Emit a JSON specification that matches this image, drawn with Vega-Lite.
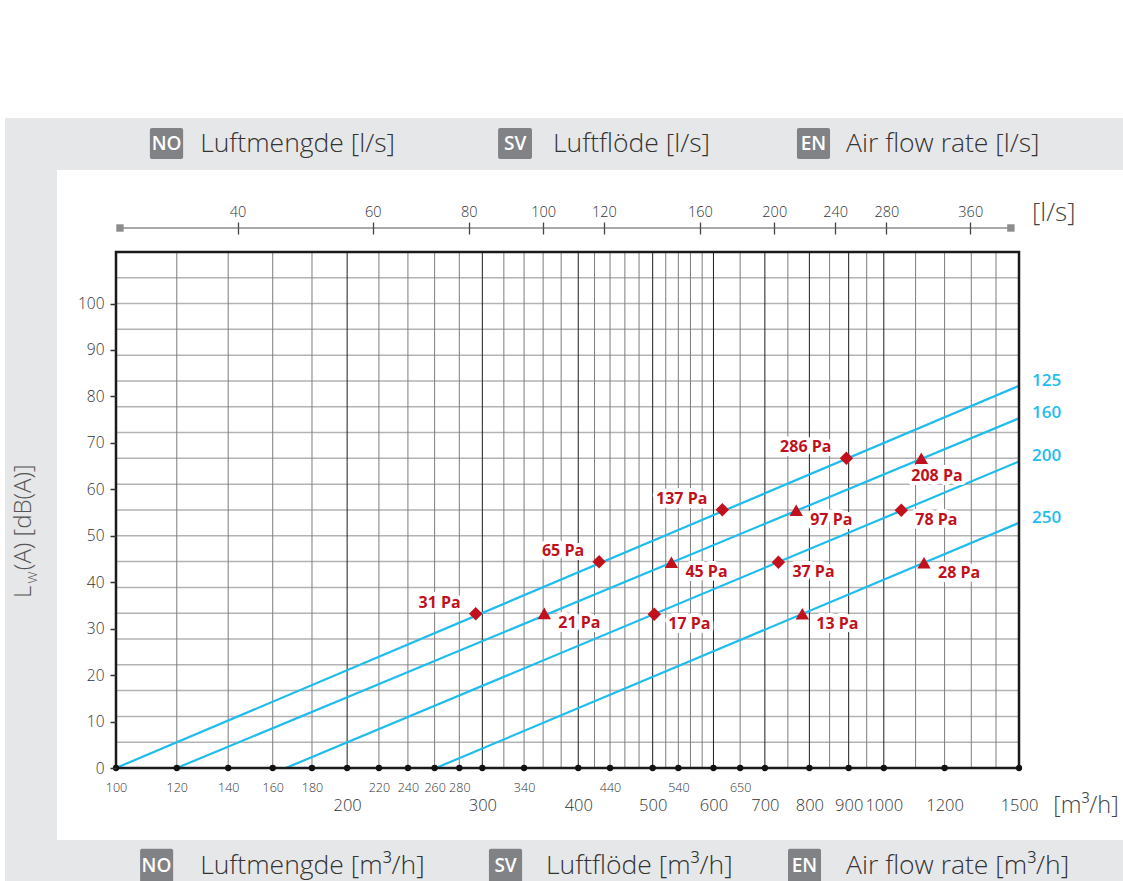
{
  "$schema": "https://vega.github.io/schema/vega-lite/v6.json",
  "width": 903,
  "height": 516,
  "autosize": {"type": "none"},
  "padding": {"left": 116, "top": 252, "right": 104, "bottom": 113},
  "background": "white",
  "config": {
    "view": {"stroke": null},
    "axis": {"labelFont": "Open Sans", "labelFontWeight": 300, "labelColor": "#333333", "grid": false, "title": null}
  },
  "datasets": {
    "vgrid": [
      {"q": 120, "kind": "minor"}, {"q": 140, "kind": "minor"}, {"q": 160, "kind": "minor"}, {"q": 180, "kind": "minor"},
      {"q": 200, "kind": "major"},
      {"q": 220, "kind": "minor"}, {"q": 240, "kind": "minor"}, {"q": 260, "kind": "minor"}, {"q": 280, "kind": "minor"},
      {"q": 300, "kind": "major"},
      {"q": 320, "kind": "minor"}, {"q": 340, "kind": "minor"}, {"q": 360, "kind": "minor"}, {"q": 380, "kind": "minor"},
      {"q": 400, "kind": "major"},
      {"q": 420, "kind": "minor"}, {"q": 440, "kind": "minor"}, {"q": 460, "kind": "minor"}, {"q": 480, "kind": "minor"},
      {"q": 500, "kind": "major"},
      {"q": 520, "kind": "minor"}, {"q": 540, "kind": "minor"}, {"q": 560, "kind": "minor"}, {"q": 580, "kind": "minor"},
      {"q": 600, "kind": "major"}, {"q": 650, "kind": "minor"},
      {"q": 700, "kind": "major"}, {"q": 750, "kind": "minor"},
      {"q": 800, "kind": "major"}, {"q": 850, "kind": "minor"},
      {"q": 900, "kind": "major"}, {"q": 950, "kind": "minor"},
      {"q": 1000, "kind": "major"},
      {"q": 1100, "kind": "minor"}, {"q": 1200, "kind": "minor"}, {"q": 1300, "kind": "minor"}, {"q": 1400, "kind": "minor"}
    ],
    "hgrid": [
      {"db": 5.556}, {"db": 11.111}, {"db": 16.667}, {"db": 22.222}, {"db": 27.778}, {"db": 33.333}, {"db": 38.889},
      {"db": 44.444}, {"db": 50}, {"db": 55.556}, {"db": 61.111}, {"db": 66.667}, {"db": 72.222}, {"db": 77.778},
      {"db": 83.333}, {"db": 88.889}, {"db": 94.444}, {"db": 100}, {"db": 105.556}
    ],
    "lines": [
      {"size": 125, "q": 100, "db": 0}, {"size": 125, "q": 1500, "db": 82.3},
      {"size": 160, "q": 120, "db": 0}, {"size": 160, "q": 1500, "db": 75.3},
      {"size": 200, "q": 166.4, "db": 0}, {"size": 200, "q": 1500, "db": 66.0},
      {"size": 250, "q": 261, "db": 0}, {"size": 250, "q": 1500, "db": 52.8}
    ],
    "points": [
      {"size": 125, "pa": "31 Pa", "q": 294.1, "db": 33.2},
      {"size": 125, "pa": "65 Pa", "q": 425.8, "db": 44.4},
      {"size": 125, "pa": "137 Pa", "q": 616.2, "db": 55.6},
      {"size": 125, "pa": "286 Pa", "q": 893.9, "db": 66.7},
      {"size": 160, "pa": "21 Pa", "q": 361.3, "db": 33.3},
      {"size": 160, "pa": "45 Pa", "q": 528.9, "db": 44.3},
      {"size": 160, "pa": "97 Pa", "q": 769.0, "db": 55.5},
      {"size": 160, "pa": "208 Pa", "q": 1119.0, "db": 66.7},
      {"size": 200, "pa": "17 Pa", "q": 502.4, "db": 33.1},
      {"size": 200, "pa": "37 Pa", "q": 729.0, "db": 44.3},
      {"size": 200, "pa": "78 Pa", "q": 1053.9, "db": 55.5},
      {"size": 250, "pa": "13 Pa", "q": 783.2, "db": 33.2},
      {"size": 250, "pa": "28 Pa", "q": 1128.1, "db": 44.2}
    ],
    "dots": [
      {"q": 100}, {"q": 120}, {"q": 140}, {"q": 160}, {"q": 180}, {"q": 200}, {"q": 220}, {"q": 240},
      {"q": 260}, {"q": 280}, {"q": 300}, {"q": 340}, {"q": 400}, {"q": 440}, {"q": 500}, {"q": 540},
      {"q": 600}, {"q": 650}, {"q": 700}, {"q": 800}, {"q": 900}, {"q": 1000}, {"q": 1200}, {"q": 1500}
    ]
  },
  "resolve": {"axis": {"x": "independent", "y": "independent"}},
  "layer": [
    {
      "data": {"values": [{}]},
      "mark": {"type": "rect", "fill": "#e6e7e8"},
      "encoding": {
        "x": {"datum": 71.7, "type": "quantitative", "scale": {"type": "log", "domain": [100, 1500]}, "axis": null},
        "x2": {"datum": 2200},
        "y": {"datum": 139.95, "type": "quantitative", "scale": {"domain": [0, 111.1], "nice": false, "zero": false}, "axis": null},
        "y2": {"datum": -40}
      }
    },
    {
      "data": {"values": [{}]},
      "mark": {"type": "rect", "fill": "white"},
      "encoding": {
        "x": {"datum": 83.8, "type": "quantitative", "scale": {"type": "log", "domain": [100, 1500]}, "axis": null},
        "x2": {"datum": 2200},
        "y": {"datum": 128.76, "type": "quantitative", "scale": {"domain": [0, 111.1], "nice": false, "zero": false}, "axis": null},
        "y2": {"datum": -15.5}
      }
    },
    {
      "data": {"name": "hgrid"},
      "mark": {"type": "rule", "color": "#b3b3b3", "strokeWidth": 1.5},
      "encoding": {
        "y": {
          "field": "db", "type": "quantitative",
          "scale": {"domain": [0, 111.1], "nice": false, "zero": false},
          "axis": {
            "orient": "left", "values": [0, 10, 20, 30, 40, 50, 60, 70, 80, 90, 100], "zindex": 2,
            "domain": false, "ticks": true, "tickSize": 6, "tickColor": "#333333", "tickWidth": 1.5,
            "labelPadding": 6, "labelFontSize": 15.5
          }
        }
      }
    },
    {
      "data": {"name": "vgrid"},
      "mark": {"type": "rule", "strokeWidth": 1},
      "encoding": {
        "x": {
          "field": "q", "type": "quantitative",
          "scale": {"type": "log", "domain": [100, 1500]},
          "axis": {
            "orient": "bottom", "values": [200, 300, 400, 500, 600, 700, 800, 900, 1000, 1200, 1500], "zindex": 2,
            "format": "d", "domain": false, "ticks": false, "tickSize": 0, "labelPadding": 29, "labelFontSize": 16.5,
            "labelFlush": false, "labelOverlap": false
          }
        },
        "color": {
          "field": "kind", "type": "nominal",
          "scale": {"domain": ["major", "minor"], "range": ["#1e1e1e", "#7d7d7d"]},
          "legend": null
        }
      }
    },
    {
      "data": {"name": "lines"},
      "mark": {"type": "line", "color": "#1fbcee", "strokeWidth": 2.2},
      "encoding": {
        "x": {"field": "q", "type": "quantitative", "scale": {"type": "log", "domain": [100, 1500]}, "axis": null},
        "y": {"field": "db", "type": "quantitative", "scale": {"domain": [0, 111.1], "nice": false, "zero": false}, "axis": null},
        "detail": {"field": "size", "type": "nominal"}
      }
    },
    {
      "data": {"values": [{}]},
      "mark": {"type": "rect", "fillOpacity": 0, "stroke": "#1a1a1a", "strokeWidth": 2.5},
      "encoding": {
        "x": {"datum": 100, "type": "quantitative", "scale": {"type": "log", "domain": [100, 1500]}, "axis": null},
        "x2": {"datum": 1500},
        "y": {"datum": 0, "type": "quantitative", "scale": {"domain": [0, 111.1], "nice": false, "zero": false}, "axis": null},
        "y2": {"datum": 111.1}
      }
    },
    {
      "data": {"name": "dots"},
      "mark": {"type": "circle", "color": "#111111", "size": 40, "opacity": 1},
      "encoding": {
        "x": {
          "field": "q", "type": "quantitative",
          "scale": {"type": "log", "domain": [100, 1500]},
          "axis": {
            "orient": "bottom", "values": [100, 120, 140, 160, 180, 220, 240, 260, 280, 340, 440, 540, 650], "zindex": 2,
            "format": "d", "domain": false, "ticks": false, "tickSize": 0, "labelPadding": 13, "labelFontSize": 12.5,
            "labelFlush": false, "labelOverlap": false
          }
        },
        "y": {"datum": 0, "type": "quantitative", "scale": {"domain": [0, 111.1], "nice": false, "zero": false}, "axis": null}
      }
    },
    {
      "data": {"name": "points"},
      "mark": {"type": "point", "filled": true, "color": "#c0111d", "size": 180, "opacity": 1},
      "encoding": {
        "x": {"field": "q", "type": "quantitative", "scale": {"type": "log", "domain": [100, 1500]}, "axis": null},
        "y": {"field": "db", "type": "quantitative", "scale": {"domain": [0, 111.1], "nice": false, "zero": false}, "axis": null},
        "shape": {
          "field": "size", "type": "nominal",
          "scale": {"domain": [125, 160, 200, 250], "range": ["diamond", "triangle-up", "diamond", "triangle-up"]},
          "legend": null
        }
      }
    },
    {
      "data": {"name": "points"},
      "transform": [{"filter": "datum.size == 125"}],
      "mark": {"type": "text", "align": "right", "baseline": "middle", "dx": -15, "dy": -11, "font": "Open Sans", "fontWeight": 700, "fontSize": 16, "fill": "white", "stroke": "white", "strokeWidth": 8, "strokeJoin": "round"},
      "encoding": {
        "x": {"field": "q", "type": "quantitative", "scale": {"type": "log", "domain": [100, 1500]}, "axis": null},
        "y": {"field": "db", "type": "quantitative", "scale": {"domain": [0, 111.1], "nice": false, "zero": false}, "axis": null},
        "text": {"field": "pa"}
      }
    },
    {
      "data": {"name": "points"},
      "transform": [{"filter": "datum.size == 125"}],
      "mark": {"type": "text", "align": "right", "baseline": "middle", "dx": -15, "dy": -11, "font": "Open Sans", "fontWeight": 700, "fontSize": 16, "color": "#c0111d"},
      "encoding": {
        "x": {"field": "q", "type": "quantitative", "scale": {"type": "log", "domain": [100, 1500]}, "axis": null},
        "y": {"field": "db", "type": "quantitative", "scale": {"domain": [0, 111.1], "nice": false, "zero": false}, "axis": null},
        "text": {"field": "pa"}
      }
    },
    {
      "data": {"name": "points"},
      "transform": [{"filter": "datum.size != 125 && datum.pa != '208 Pa'"}],
      "mark": {"type": "text", "align": "left", "baseline": "middle", "dx": 14, "dy": 10, "font": "Open Sans", "fontWeight": 700, "fontSize": 16, "fill": "white", "stroke": "white", "strokeWidth": 8, "strokeJoin": "round"},
      "encoding": {
        "x": {"field": "q", "type": "quantitative", "scale": {"type": "log", "domain": [100, 1500]}, "axis": null},
        "y": {"field": "db", "type": "quantitative", "scale": {"domain": [0, 111.1], "nice": false, "zero": false}, "axis": null},
        "text": {"field": "pa"}
      }
    },
    {
      "data": {"name": "points"},
      "transform": [{"filter": "datum.size != 125 && datum.pa != '208 Pa'"}],
      "mark": {"type": "text", "align": "left", "baseline": "middle", "dx": 14, "dy": 10, "font": "Open Sans", "fontWeight": 700, "fontSize": 16, "color": "#c0111d"},
      "encoding": {
        "x": {"field": "q", "type": "quantitative", "scale": {"type": "log", "domain": [100, 1500]}, "axis": null},
        "y": {"field": "db", "type": "quantitative", "scale": {"domain": [0, 111.1], "nice": false, "zero": false}, "axis": null},
        "text": {"field": "pa"}
      }
    },
    {
      "data": {"name": "points"},
      "transform": [{"filter": "datum.pa == '208 Pa'"}],
      "mark": {"type": "text", "align": "left", "baseline": "middle", "dx": -10, "dy": 18, "font": "Open Sans", "fontWeight": 700, "fontSize": 16, "fill": "white", "stroke": "white", "strokeWidth": 8, "strokeJoin": "round"},
      "encoding": {
        "x": {"field": "q", "type": "quantitative", "scale": {"type": "log", "domain": [100, 1500]}, "axis": null},
        "y": {"field": "db", "type": "quantitative", "scale": {"domain": [0, 111.1], "nice": false, "zero": false}, "axis": null},
        "text": {"field": "pa"}
      }
    },
    {
      "data": {"name": "points"},
      "transform": [{"filter": "datum.pa == '208 Pa'"}],
      "mark": {"type": "text", "align": "left", "baseline": "middle", "dx": -10, "dy": 18, "font": "Open Sans", "fontWeight": 700, "fontSize": 16, "color": "#c0111d"},
      "encoding": {
        "x": {"field": "q", "type": "quantitative", "scale": {"type": "log", "domain": [100, 1500]}, "axis": null},
        "y": {"field": "db", "type": "quantitative", "scale": {"domain": [0, 111.1], "nice": false, "zero": false}, "axis": null},
        "text": {"field": "pa"}
      }
    },
    {
      "data": {"name": "lines"},
      "transform": [{"filter": "datum.q == 1500"}],
      "mark": {"type": "text", "align": "left", "baseline": "middle", "dx": 13, "dy": -5, "font": "Open Sans", "fontWeight": 600, "fontSize": 17, "color": "#1fbcee"},
      "encoding": {
        "x": {"field": "q", "type": "quantitative", "scale": {"type": "log", "domain": [100, 1500]}, "axis": null},
        "y": {"field": "db", "type": "quantitative", "scale": {"domain": [0, 111.1], "nice": false, "zero": false}, "axis": null},
        "text": {"field": "size"}
      }
    },
    {
      "data": {"values": [{}]},
      "mark": {"type": "rule", "color": "#8c8c8c", "strokeWidth": 1.5},
      "encoding": {
        "x": {
          "datum": 101.2, "type": "quantitative",
          "scale": {"type": "log", "domain": [100, 1500]},
          "axis": {
            "orient": "top", "offset": 24, "values": [144, 216, 288, 360, 432, 576, 720, 864, 1008, 1296], "zindex": 2,
            "labelExpr": "round(datum.value / 3.6)", "domain": false, "ticks": true, "tickSize": 6,
            "tickColor": "#444444", "tickWidth": 1.3, "labelPadding": 3, "labelFontSize": 14.5,
            "labelFlush": false, "labelOverlap": false
          }
        },
        "x2": {"datum": 1464},
        "y": {"datum": 116.27, "type": "quantitative", "scale": {"domain": [0, 111.1], "nice": false, "zero": false}, "axis": null}
      }
    },
    {
      "data": {"values": [{}]},
      "mark": {"type": "point", "shape": "square", "filled": true, "color": "#8c8c8c", "size": 55, "opacity": 1},
      "encoding": {
        "x": {
          "datum": 101.2, "type": "quantitative",
          "scale": {"type": "log", "domain": [100, 1500]},
          "axis": {
            "orient": "top", "offset": 24, "values": [144, 216, 288, 360, 432, 576, 720, 864, 1008, 1296], "zindex": 2,
            "labels": false, "domain": false, "ticks": true, "tickSize": -6,
            "tickColor": "#444444", "tickWidth": 1.3
          }
        },
        "y": {"datum": 116.27, "type": "quantitative", "scale": {"domain": [0, 111.1], "nice": false, "zero": false}, "axis": null}
      }
    },
    {
      "data": {"values": [{}]},
      "mark": {"type": "point", "shape": "square", "filled": true, "color": "#8c8c8c", "size": 55, "opacity": 1},
      "encoding": {
        "x": {"datum": 1464, "type": "quantitative", "scale": {"type": "log", "domain": [100, 1500]}, "axis": null},
        "y": {"datum": 116.27, "type": "quantitative", "scale": {"domain": [0, 111.1], "nice": false, "zero": false}, "axis": null}
      }
    },
    {
      "data": {"values": [{}]},
      "mark": {"type": "text", "text": "[l/s]", "align": "left", "baseline": "middle", "font": "Open Sans", "fontWeight": 300, "fontSize": 26, "color": "#444444"},
      "encoding": {
        "x": {"datum": 1560, "type": "quantitative", "scale": {"type": "log", "domain": [100, 1500]}, "axis": null},
        "y": {"datum": 119.5, "type": "quantitative", "scale": {"domain": [0, 111.1], "nice": false, "zero": false}, "axis": null}
      }
    },
    {
      "data": {"values": [{}]},
      "mark": {"type": "text", "text": "[m³/h]", "align": "left", "baseline": "middle", "font": "Open Sans", "fontWeight": 300, "fontSize": 23.5, "color": "#444444"},
      "encoding": {
        "x": {"datum": 1662, "type": "quantitative", "scale": {"type": "log", "domain": [100, 1500]}, "axis": null},
        "y": {"datum": -8.2, "type": "quantitative", "scale": {"domain": [0, 111.1], "nice": false, "zero": false}, "axis": null}
      }
    },
    {
      "data": {"values": [{}]},
      "mark": {"type": "text", "text": "L", "angle": 270, "align": "left", "baseline": "middle", "font": "Open Sans", "fontWeight": 300, "fontSize": 24, "color": "#555555"},
      "encoding": {
        "x": {"datum": 75.9, "type": "quantitative", "scale": {"type": "log", "domain": [100, 1500]}, "axis": null},
        "y": {"datum": 36.6, "type": "quantitative", "scale": {"domain": [0, 111.1], "nice": false, "zero": false}, "axis": null}
      }
    },
    {
      "data": {"values": [{}]},
      "mark": {"type": "text", "text": "W", "angle": 270, "align": "left", "baseline": "middle", "font": "Open Sans", "fontWeight": 300, "fontSize": 13.5, "color": "#555555"},
      "encoding": {
        "x": {"datum": 78.0, "type": "quantitative", "scale": {"type": "log", "domain": [100, 1500]}, "axis": null},
        "y": {"datum": 39.7, "type": "quantitative", "scale": {"domain": [0, 111.1], "nice": false, "zero": false}, "axis": null}
      }
    },
    {
      "data": {"values": [{}]},
      "mark": {"type": "text", "text": "(A) [dB(A)]", "angle": 270, "align": "left", "baseline": "middle", "font": "Open Sans", "fontWeight": 300, "fontSize": 24, "color": "#555555"},
      "encoding": {
        "x": {"datum": 75.9, "type": "quantitative", "scale": {"type": "log", "domain": [100, 1500]}, "axis": null},
        "y": {"datum": 42.6, "type": "quantitative", "scale": {"domain": [0, 111.1], "nice": false, "zero": false}, "axis": null}
      }
    },
    {
      "data": {"values": [{}]},
      "mark": {"type": "rect", "fill": "#808285", "cornerRadius": 2},
      "encoding": {
        "x": {"datum": 110.7, "type": "quantitative", "scale": {"type": "log", "domain": [100, 1500]}, "axis": null},
        "x2": {"datum": 122.3},
        "y": {"datum": 137.8, "type": "quantitative", "scale": {"domain": [0, 111.1], "nice": false, "zero": false}, "axis": null},
        "y2": {"datum": 131.1}
      }
    },
    {
      "data": {"values": [{}]},
      "mark": {"type": "rect", "fill": "#808285", "cornerRadius": 2},
      "encoding": {
        "x": {"datum": 314.5, "type": "quantitative", "scale": {"type": "log", "domain": [100, 1500]}, "axis": null},
        "x2": {"datum": 348.2},
        "y": {"datum": 137.8, "type": "quantitative", "scale": {"domain": [0, 111.1], "nice": false, "zero": false}, "axis": null},
        "y2": {"datum": 131.1}
      }
    },
    {
      "data": {"values": [{}]},
      "mark": {"type": "rect", "fill": "#808285", "cornerRadius": 2},
      "encoding": {
        "x": {"datum": 770.7, "type": "quantitative", "scale": {"type": "log", "domain": [100, 1500]}, "axis": null},
        "x2": {"datum": 851.1},
        "y": {"datum": 137.8, "type": "quantitative", "scale": {"domain": [0, 111.1], "nice": false, "zero": false}, "axis": null},
        "y2": {"datum": 131.1}
      }
    },
    {
      "data": {"values": [{}]},
      "mark": {"type": "rect", "fill": "#808285", "cornerRadius": 2},
      "encoding": {
        "x": {"datum": 107.5, "type": "quantitative", "scale": {"type": "log", "domain": [100, 1500]}, "axis": null},
        "x2": {"datum": 118.7},
        "y": {"datum": -17.4, "type": "quantitative", "scale": {"domain": [0, 111.1], "nice": false, "zero": false}, "axis": null},
        "y2": {"datum": -25}
      }
    },
    {
      "data": {"values": [{}]},
      "mark": {"type": "rect", "fill": "#808285", "cornerRadius": 2},
      "encoding": {
        "x": {"datum": 306.0, "type": "quantitative", "scale": {"type": "log", "domain": [100, 1500]}, "axis": null},
        "x2": {"datum": 338.0},
        "y": {"datum": -17.4, "type": "quantitative", "scale": {"domain": [0, 111.1], "nice": false, "zero": false}, "axis": null},
        "y2": {"datum": -25}
      }
    },
    {
      "data": {"values": [{}]},
      "mark": {"type": "rect", "fill": "#808285", "cornerRadius": 2},
      "encoding": {
        "x": {"datum": 750.3, "type": "quantitative", "scale": {"type": "log", "domain": [100, 1500]}, "axis": null},
        "x2": {"datum": 828.4},
        "y": {"datum": -17.4, "type": "quantitative", "scale": {"domain": [0, 111.1], "nice": false, "zero": false}, "axis": null},
        "y2": {"datum": -25}
      }
    },
    {
      "data": {"values": [{}]},
      "mark": {"type": "text", "text": "NO", "align": "center", "baseline": "middle", "font": "Open Sans", "fontWeight": 600, "fontSize": 19, "color": "white"},
      "encoding": {
        "x": {"datum": 116.4, "type": "quantitative", "scale": {"type": "log", "domain": [100, 1500]}, "axis": null},
        "y": {"datum": 134.4, "type": "quantitative", "scale": {"domain": [0, 111.1], "nice": false, "zero": false}, "axis": null}
      }
    },
    {
      "data": {"values": [{}]},
      "mark": {"type": "text", "text": "SV", "align": "center", "baseline": "middle", "font": "Open Sans", "fontWeight": 600, "fontSize": 19, "color": "white"},
      "encoding": {
        "x": {"datum": 331.0, "type": "quantitative", "scale": {"type": "log", "domain": [100, 1500]}, "axis": null},
        "y": {"datum": 134.4, "type": "quantitative", "scale": {"domain": [0, 111.1], "nice": false, "zero": false}, "axis": null}
      }
    },
    {
      "data": {"values": [{}]},
      "mark": {"type": "text", "text": "EN", "align": "center", "baseline": "middle", "font": "Open Sans", "fontWeight": 600, "fontSize": 19, "color": "white"},
      "encoding": {
        "x": {"datum": 809.8, "type": "quantitative", "scale": {"type": "log", "domain": [100, 1500]}, "axis": null},
        "y": {"datum": 134.4, "type": "quantitative", "scale": {"domain": [0, 111.1], "nice": false, "zero": false}, "axis": null}
      }
    },
    {
      "data": {"values": [{}]},
      "mark": {"type": "text", "text": "NO", "align": "center", "baseline": "middle", "font": "Open Sans", "fontWeight": 600, "fontSize": 19, "color": "white"},
      "encoding": {
        "x": {"datum": 112.9, "type": "quantitative", "scale": {"type": "log", "domain": [100, 1500]}, "axis": null},
        "y": {"datum": -21.1, "type": "quantitative", "scale": {"domain": [0, 111.1], "nice": false, "zero": false}, "axis": null}
      }
    },
    {
      "data": {"values": [{}]},
      "mark": {"type": "text", "text": "SV", "align": "center", "baseline": "middle", "font": "Open Sans", "fontWeight": 600, "fontSize": 19, "color": "white"},
      "encoding": {
        "x": {"datum": 321.6, "type": "quantitative", "scale": {"type": "log", "domain": [100, 1500]}, "axis": null},
        "y": {"datum": -21.1, "type": "quantitative", "scale": {"domain": [0, 111.1], "nice": false, "zero": false}, "axis": null}
      }
    },
    {
      "data": {"values": [{}]},
      "mark": {"type": "text", "text": "EN", "align": "center", "baseline": "middle", "font": "Open Sans", "fontWeight": 600, "fontSize": 19, "color": "white"},
      "encoding": {
        "x": {"datum": 788.4, "type": "quantitative", "scale": {"type": "log", "domain": [100, 1500]}, "axis": null},
        "y": {"datum": -21.1, "type": "quantitative", "scale": {"domain": [0, 111.1], "nice": false, "zero": false}, "axis": null}
      }
    },
    {
      "data": {"values": [{}]},
      "mark": {"type": "text", "text": "Luftmengde [l/s]", "align": "left", "baseline": "middle", "font": "Open Sans", "fontWeight": 300, "fontSize": 26.5, "color": "#333333"},
      "encoding": {
        "x": {"datum": 128.7, "type": "quantitative", "scale": {"type": "log", "domain": [100, 1500]}, "axis": null},
        "y": {"datum": 134.4, "type": "quantitative", "scale": {"domain": [0, 111.1], "nice": false, "zero": false}, "axis": null}
      }
    },
    {
      "data": {"values": [{}]},
      "mark": {"type": "text", "text": "Luftflöde [l/s]", "align": "left", "baseline": "middle", "font": "Open Sans", "fontWeight": 300, "fontSize": 26.5, "color": "#333333"},
      "encoding": {
        "x": {"datum": 370.8, "type": "quantitative", "scale": {"type": "log", "domain": [100, 1500]}, "axis": null},
        "y": {"datum": 134.4, "type": "quantitative", "scale": {"domain": [0, 111.1], "nice": false, "zero": false}, "axis": null}
      }
    },
    {
      "data": {"values": [{}]},
      "mark": {"type": "text", "text": "Air flow rate [l/s]", "align": "left", "baseline": "middle", "font": "Open Sans", "fontWeight": 300, "fontSize": 26.5, "color": "#333333"},
      "encoding": {
        "x": {"datum": 892.9, "type": "quantitative", "scale": {"type": "log", "domain": [100, 1500]}, "axis": null},
        "y": {"datum": 134.4, "type": "quantitative", "scale": {"domain": [0, 111.1], "nice": false, "zero": false}, "axis": null}
      }
    },
    {
      "data": {"values": [{}]},
      "mark": {"type": "text", "text": "Luftmengde [m³/h]", "align": "left", "baseline": "middle", "font": "Open Sans", "fontWeight": 300, "fontSize": 26.5, "color": "#333333"},
      "encoding": {
        "x": {"datum": 128.7, "type": "quantitative", "scale": {"type": "log", "domain": [100, 1500]}, "axis": null},
        "y": {"datum": -21.1, "type": "quantitative", "scale": {"domain": [0, 111.1], "nice": false, "zero": false}, "axis": null}
      }
    },
    {
      "data": {"values": [{}]},
      "mark": {"type": "text", "text": "Luftflöde [m³/h]", "align": "left", "baseline": "middle", "font": "Open Sans", "fontWeight": 300, "fontSize": 26.5, "color": "#333333"},
      "encoding": {
        "x": {"datum": 363.1, "type": "quantitative", "scale": {"type": "log", "domain": [100, 1500]}, "axis": null},
        "y": {"datum": -21.1, "type": "quantitative", "scale": {"domain": [0, 111.1], "nice": false, "zero": false}, "axis": null}
      }
    },
    {
      "data": {"values": [{}]},
      "mark": {"type": "text", "text": "Air flow rate [m³/h]", "align": "left", "baseline": "middle", "font": "Open Sans", "fontWeight": 300, "fontSize": 26.5, "color": "#333333"},
      "encoding": {
        "x": {"datum": 892.9, "type": "quantitative", "scale": {"type": "log", "domain": [100, 1500]}, "axis": null},
        "y": {"datum": -21.1, "type": "quantitative", "scale": {"domain": [0, 111.1], "nice": false, "zero": false}, "axis": null}
      }
    }
  ]
}
